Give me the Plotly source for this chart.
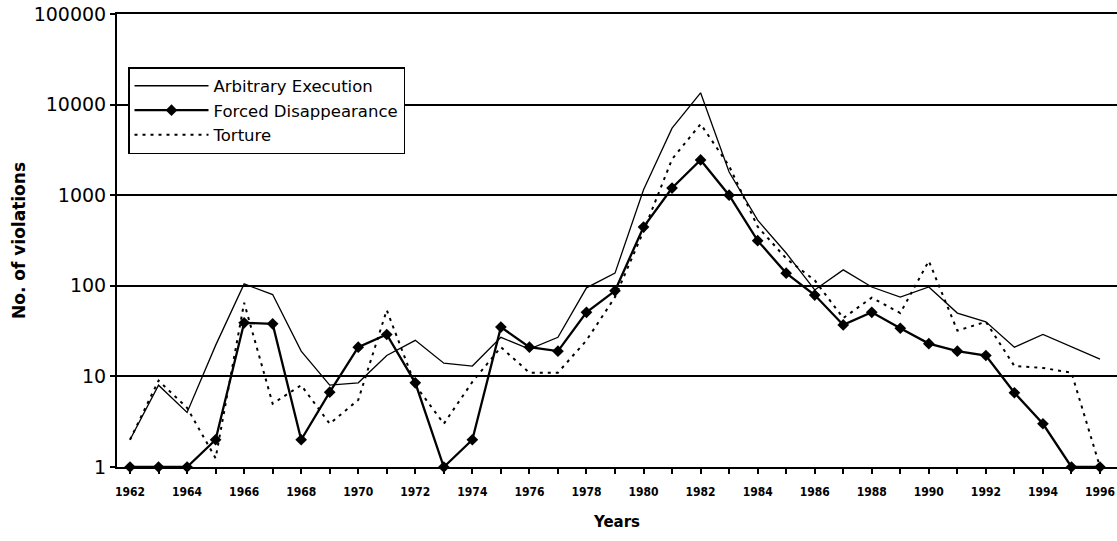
import plotly.graph_objs as go

# Violations per year
years = list(range(1962, 1997))

arbitrary_execution = [2, 8, 4, 22, 105, 80, 19, 8, 8.5, 17,
                       25, 14, 13, 27, 20, 27, 95, 138, 1150, 5500,
                       13500, 1800, 530, 230, 90, 150, 97, 75, 97, 50,
                       40, 21, 29, 21, 15.5]

forced_disappearance = [1, 1, 1, 2, 39, 38, 2, 6.7, 21, 29,
                        8.5, 1, 2, 35, 21, 19, 51, 88, 445, 1200,
                        2450, 1000, 315, 138, 79, 37, 51, 34, 23, 19,
                        17, 6.6, 3, 1, 1]

torture = [2, 9, 4.5, 1.25, 65, 5, 8, 3, 5.5, 54,
           8, 3, 8.7, 21, 11, 11, 25, 75, 400, 2500,
           6100, 2100, 450, 200, 115, 44, 74, 50, 188, 32,
           40, 13, 12.4, 11, 1]

x_tick_text = [str(y) if y % 2 == 0 else '' for y in years]
y_tick_vals = [1, 10, 100, 1000, 10000, 100000]
y_tick_text = ['1', '10', '100', '1000', '10000', '100000']

line_color = 'black'

traces = [
    go.Scatter(
        x=years, y=arbitrary_execution,
        mode='lines', name='Arbitrary Execution',
        line=dict(color=line_color, width=1.3)),
    go.Scatter(
        x=years, y=forced_disappearance,
        mode='lines+markers', name='Forced Disappearance',
        line=dict(color=line_color, width=2.3),
        marker=dict(symbol='diamond', size=9, color=line_color),
        cliponaxis=False),
    go.Scatter(
        x=years, y=torture,
        mode='lines', name='Torture',
        line=dict(color=line_color, width=2, dash='3px,5px')),
]

layout = dict(
    width=1117, height=541,
    margin=dict(l=117, r=0, t=14, b=74, autoexpand=False),
    paper_bgcolor='white', plot_bgcolor='white',
    font=dict(family='DejaVu Sans', color='black'),
    showlegend=True,
    legend=dict(
        x=0.011, y=0.883, xanchor='left', yanchor='top',
        bordercolor='black', borderwidth=1.5,
        bgcolor='white',
        font=dict(family='DejaVu Sans', size=16.5),
        itemwidth=74,
        tracegroupgap=0),
    xaxis=dict(
        range=[1961.544, 1996.596],
        automargin=False,
        tickmode='array', tickvals=years, ticktext=x_tick_text,
        ticks='outside', ticklen=5, tickwidth=1.5, tickcolor='black',
        ticklabelstandoff=8, ticklabeloverflow='allow',
        tickfont=dict(family='DejaVu Sans Condensed', size=12, weight='bold'),
        showline=True, mirror=True, linecolor='black', linewidth=2,
        showgrid=False, zeroline=False,
        title=dict(text='Years', standoff=18,
                   font=dict(family='DejaVu Sans', size=15, weight='bold'))),
    yaxis=dict(
        type='log', range=[0, 5],
        automargin=False,
        tickmode='array', tickvals=y_tick_vals, ticktext=y_tick_text,
        ticks='outside', ticklen=5, tickwidth=2, tickcolor='black',
        ticklabelstandoff=0, ticklabeloverflow='allow',
        tickfont=dict(family='DejaVu Sans', size=19),
        showline=True, linecolor='black', linewidth=2,
        showgrid=True, gridcolor='black', gridwidth=2,
        zeroline=False,
        title=dict(text='No. of violations', standoff=4,
                   font=dict(family='DejaVu Sans', size=17, weight='bold'))),
)

fig = go.Figure(data=traces, layout=layout)
# drop the page's default body margin so the figure fills the window
fig.write_html("out.html",
               config={'displayModeBar': False},
               post_script="document.body.style.margin='0';")
